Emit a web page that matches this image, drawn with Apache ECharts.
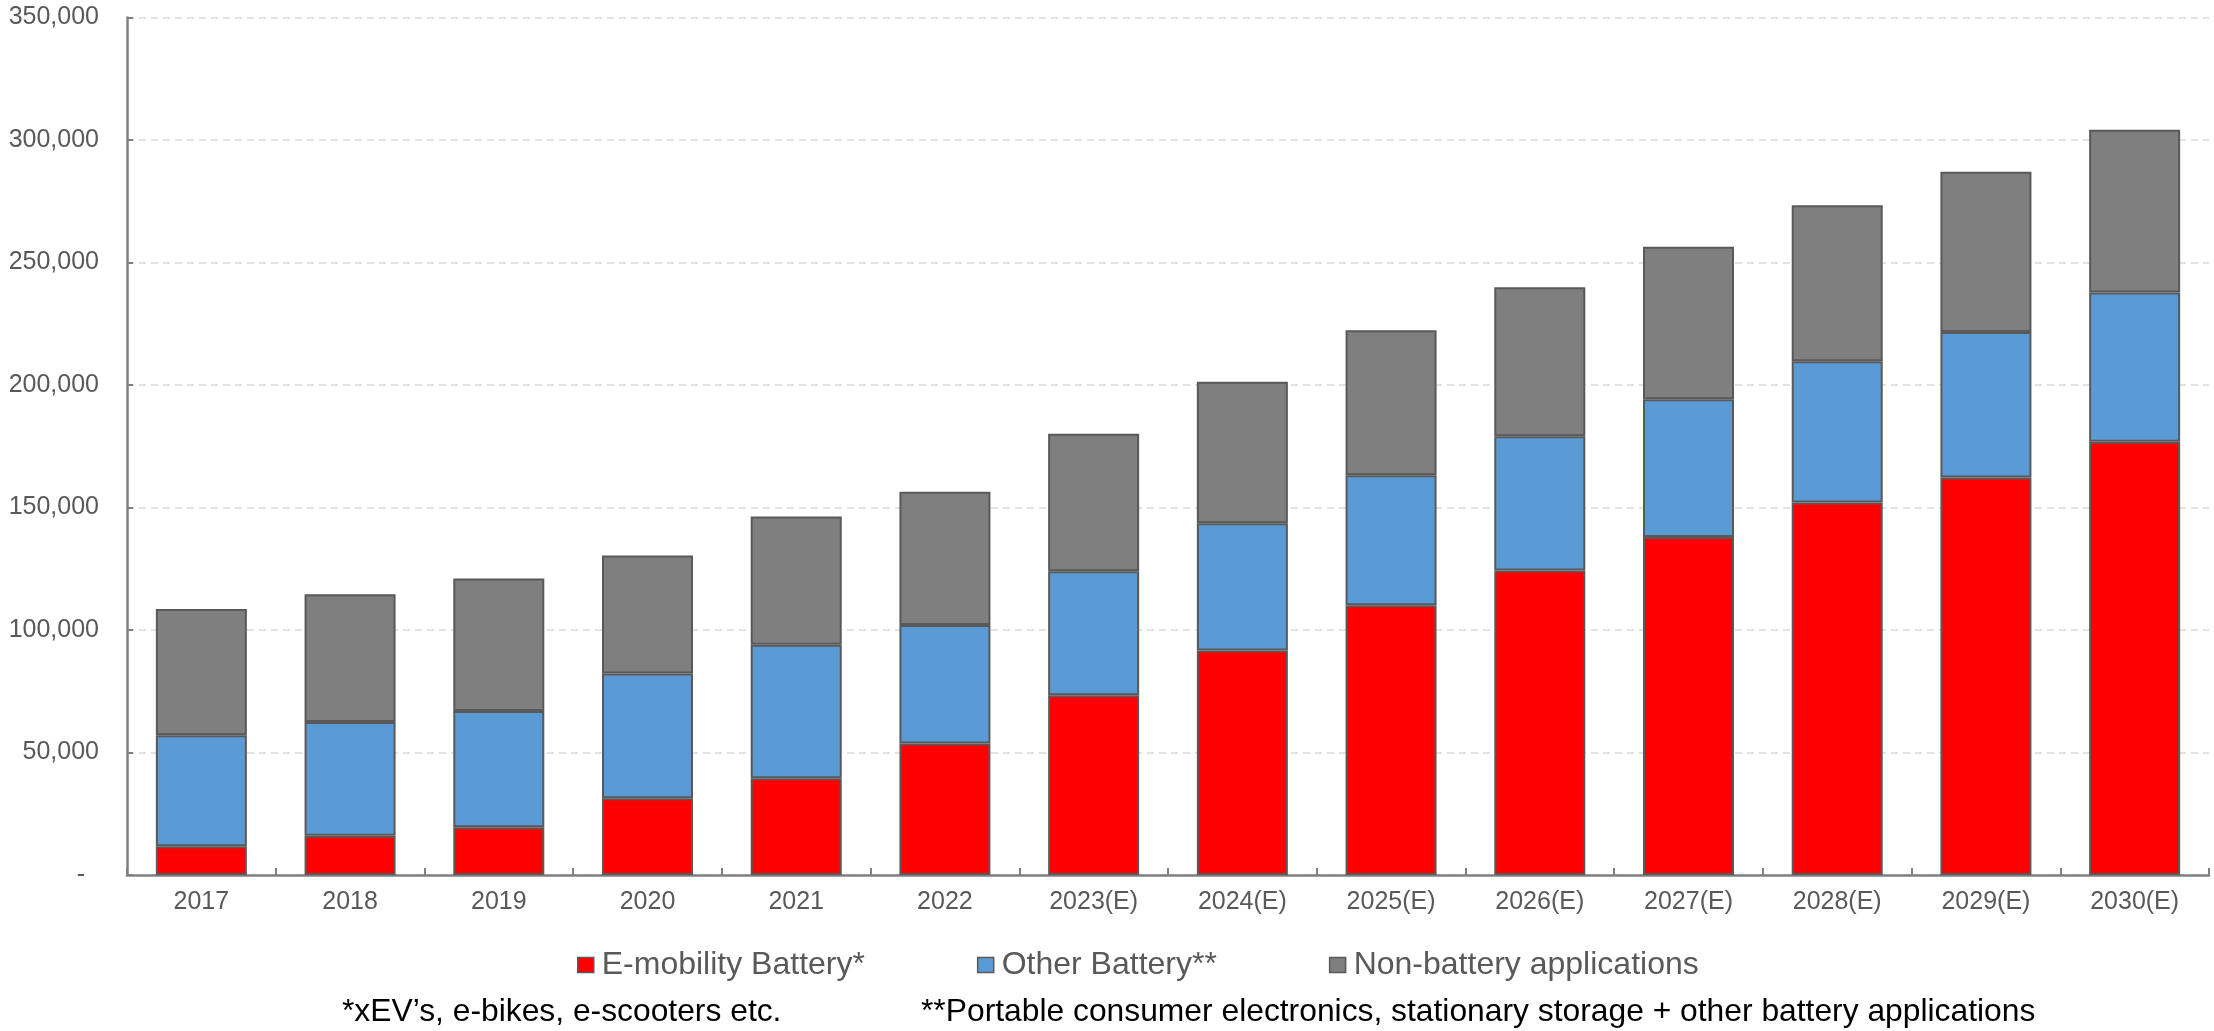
<!DOCTYPE html>
<html>
<head>
<meta charset="utf-8">
<title>Demand by application</title>
<script src="https://cdn.jsdelivr.net/npm/echarts@6/dist/echarts.min.js"></script>
<style>
  html, body { margin: 0; padding: 0; background: #ffffff; }
  #chart { width: 2214px; height: 1031px; }
</style>
</head>
<body>
<div id="chart"></div>
<script>
// Categories (years; (E) = estimate)
const years = ['2017', '2018', '2019', '2020', '2021', '2022', '2023(E)', '2024(E)',
  '2025(E)', '2026(E)', '2027(E)', '2028(E)', '2029(E)', '2030(E)'];

// Stacked series values
const eMobility = [11700, 16000, 19500, 31300, 39500, 53700, 73400, 91600,
  110100, 124300, 138000, 152000, 162200, 176800];
const otherBattery = [45300, 46500, 47400, 50900, 54500, 48300, 50600, 52000,
  53100, 54800, 56200, 57700, 59400, 61000];
const nonBattery = [51600, 52100, 54100, 48200, 52300, 54400, 56100, 57700,
  59100, 60800, 62200, 63700, 65400, 66400];

// Value axis ticks
const yTicks = [0, 50000, 100000, 150000, 200000, 250000, 300000, 350000];

const seriesNames = ['E-mobility Battery*', 'Other Battery**', 'Non-battery applications'];
const seriesColors = ['#ff0000', '#5b9bd5', '#7f7f7f'];
const footnotes = ['*xEV\u2019s, e-bikes, e-scooters etc.',
  '**Portable consumer electronics, stationary storage + other battery applications'];

const FONT = '"Liberation Sans", Arial, sans-serif';
const chart = echarts.init(document.getElementById('chart'), null, { renderer: 'canvas' });

function fmt(v) {
  if (v === 0) return '-  ';
  return v.toLocaleString('en-US');
}

const seriesData = [eMobility, otherBattery, nonBattery];

chart.setOption({
  animation: false,
  backgroundColor: '#ffffff',
  textStyle: { fontFamily: FONT },
  grid: { left: 127, right: 5, top: 17.5, bottom: 156, containLabel: false },
  legend: {
    data: seriesNames,
    left: 577,
    top: 947,
    padding: 0,
    itemGap: 112,
    itemWidth: 16,
    itemHeight: 15,
    icon: 'rect',
    itemStyle: { borderColor: '#595959', borderWidth: 1.5 },
    textStyle: { fontFamily: FONT, fontSize: 32, color: '#595959', lineHeight: 36, padding: [0, 0, 0, 3] }
  },
  xAxis: {
    type: 'category',
    data: years,
    boundaryGap: true,
    axisLine: { lineStyle: { color: '#808080', width: 2.5 } },
    axisTick: { show: true, inside: true, length: 7, lineStyle: { color: '#808080', width: 2 } },
    axisLabel: { color: '#595959', fontSize: 25, fontFamily: FONT, margin: 15, interval: 0 },
    splitLine: { show: false }
  },
  yAxis: {
    type: 'value',
    min: yTicks[0],
    max: yTicks[yTicks.length - 1],
    interval: yTicks[1] - yTicks[0],
    axisLine: { show: true, lineStyle: { color: '#808080', width: 2.5 } },
    axisTick: { show: true, inside: true, length: 6, lineStyle: { color: '#808080', width: 2 } },
    axisLabel: { color: '#595959', fontSize: 25, fontFamily: FONT, margin: 28, formatter: fmt },
    splitLine: { show: true, lineStyle: { color: '#d9d9d9', width: 1.5, type: [7, 5] } }
  },
  series: seriesNames.map((name, i) => ({
    name: name,
    type: 'bar',
    stack: 'total',
    data: seriesData[i],
    barWidth: 91,
    itemStyle: { color: seriesColors[i], borderColor: '#595959', borderWidth: 2 },
    emphasis: { disabled: true }
  })),
  graphic: [
    {
      type: 'text', left: 342, top: 996,
      style: { text: footnotes[0], fill: '#000000', font: '31.8px ' + FONT }
    },
    {
      type: 'text', left: 921, top: 996,
      style: { text: footnotes[1], fill: '#000000', font: '31.8px ' + FONT }
    }
  ]
});
</script>
</body>
</html>
